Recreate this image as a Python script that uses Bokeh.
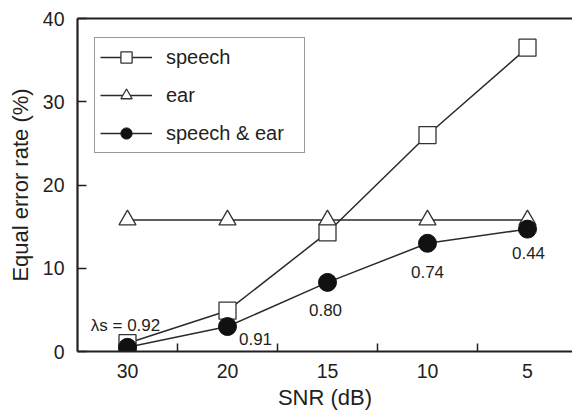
from bokeh.plotting import figure
from bokeh.models import Range1d, FixedTicker, LinearAxis, Legend, LegendItem, ColumnDataSource
from bokeh.embed import file_html
from bokeh.resources import INLINE
from bokeh.core.properties import value

# ---- data ----
snr_labels = ["30", "20", "15", "10", "5"]
speech = [1.0, 4.9, 14.3, 26.0, 36.5]
ear = [15.8, 15.8, 15.8, 15.8, 15.8]
speech_ear = [0.5, 3.0, 8.3, 13.0, 14.7]
lam = ["0.92", "0.91", "0.80", "0.74", "0.44"]
y_ticks = [0, 10, 20, 30, 40]

xpos = list(range(len(snr_labels)))
INK = "#231f20"
LINE = "#2a2a2a"
FONT = "Liberation Sans"

p = figure(width=572, height=414, output_backend="svg", toolbar_location=None,
           x_range=Range1d(-0.5, 4.45), y_range=Range1d(0, 40),
           min_border_left=77, min_border_right=0, min_border_top=18, min_border_bottom=63)
p.outline_line_color = None
p.grid.visible = False
p.background_fill_color = "white"
p.border_fill_color = "white"

# x axis
xa = p.xaxis[0]
xa.ticker = FixedTicker(ticks=xpos, minor_ticks=[i + 0.5 for i in xpos[:-1]])
xa.major_label_overrides = {i: s for i, s in zip(xpos, snr_labels)}
xa.major_tick_line_color = None
xa.major_tick_in = 0
xa.major_tick_out = 0
xa.minor_tick_in = 8
xa.minor_tick_out = 0
xa.minor_tick_line_width = 1.5
xa.minor_tick_line_color = INK
xa.axis_line_width = 2.2
xa.axis_line_color = INK
xa.major_label_text_font = FONT
xa.major_label_text_font_size = "19.5px"
xa.major_label_text_color = INK
xa.major_label_standoff = 12
xa.axis_label = "SNR (dB)"
xa.axis_label_text_font = FONT
xa.axis_label_text_font_size = "22px"
xa.axis_label_text_font_style = "normal"
xa.axis_label_text_color = INK
xa.axis_label_standoff = 4

# y axis
ya = p.yaxis[0]
ya.ticker = FixedTicker(ticks=y_ticks, minor_ticks=[])
ya.major_tick_in = 9
ya.major_tick_out = 0
ya.major_tick_line_width = 1.5
ya.major_tick_line_color = INK
ya.minor_tick_line_color = None
ya.axis_line_width = 2.2
ya.axis_line_color = INK
ya.major_label_text_font = FONT
ya.major_label_text_font_size = "19.5px"
ya.major_label_text_color = INK
ya.major_label_standoff = 13
ya.axis_label = "Equal error rate (%)"
ya.axis_label_text_font = FONT
ya.axis_label_text_font_size = "22px"
ya.axis_label_text_font_style = "normal"
ya.axis_label_text_color = INK
ya.axis_label_standoff = 7

# top border as a bare axis
top = LinearAxis(ticker=FixedTicker(ticks=[]), major_label_text_font_size="0px",
                 major_tick_line_color=None, minor_tick_line_color=None,
                 major_tick_out=0, minor_tick_out=0, major_label_standoff=0,
                 axis_line_width=2.2, axis_line_color=INK)
p.add_layout(top, "above")

src = ColumnDataSource(dict(x=xpos, speech=speech, ear=ear, se=speech_ear))

l1 = p.line("x", "speech", source=src, line_color=LINE, line_width=1.5)
m1 = p.scatter("x", "speech", source=src, marker="square", size=17,
               fill_color="white", line_color="#333333", line_width=1.3)
l2 = p.line("x", "ear", source=src, line_color=LINE, line_width=1.5)
m2 = p.scatter("x", "ear", source=src, marker="triangle", size=17,
               fill_color="white", line_color="#333333", line_width=1.3)
l3 = p.line("x", "se", source=src, line_color=LINE, line_width=1.5)
m3 = p.scatter("x", "se", source=src, marker="circle", size=18,
               fill_color="#111111", line_color="#111111", line_width=1)

# lambda annotations
texts = ["\u03bbs = " + lam[0]] + lam[1:]
dx = [-2, 28, -2, 0, 1]
dy = [-22, 12, 28, 29, 24]
tsrc = ColumnDataSource(dict(x=xpos, y=speech_ear, t=texts, dx=dx, dy=dy))
p.text("x", "y", text="t", source=tsrc, x_offset="dx", y_offset="dy",
       text_align="center", text_baseline="middle",
       text_font=value(FONT), text_font_size="17px", text_color=INK)

legend = Legend(items=[
    LegendItem(label="speech", renderers=[l1, m1]),
    LegendItem(label="ear", renderers=[l2, m2]),
    LegendItem(label="speech & ear", renderers=[l3, m3]),
], location=(17, 198))
legend.border_line_color = "#333333"
legend.border_line_width = 1.5
legend.background_fill_color = "white"
legend.background_fill_alpha = 1
legend.padding = 5
legend.spacing = 10
legend.margin = 0
legend.glyph_height = 28
legend.glyph_width = 52
legend.label_height = 28
legend.label_width = 133
legend.label_standoff = 14
legend.label_text_font = FONT
legend.label_text_font_size = "20px"
legend.label_text_color = INK
legend.label_text_baseline = "middle"
p.add_layout(legend)

open("out.html", "w").write(file_html(p, INLINE))
